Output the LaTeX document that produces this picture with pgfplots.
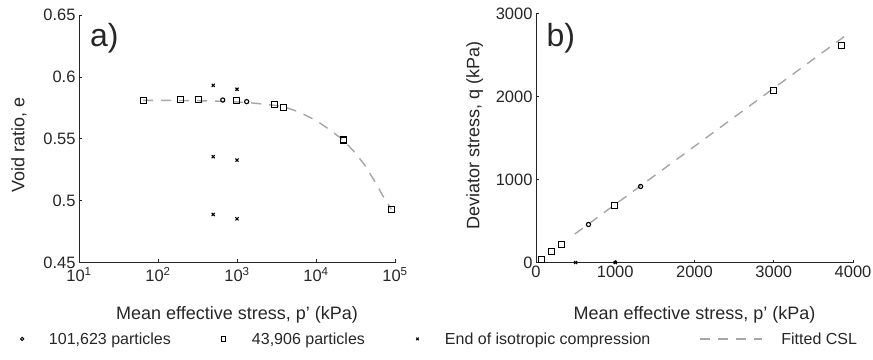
\documentclass[border=0pt]{standalone}
\usepackage{fontspec}
\setmainfont{Liberation Sans}
\usepackage{pgfplots}
\pgfplotsset{compat=1.18}
\definecolor{txt}{HTML}{262626}
\definecolor{csl}{HTML}{A6A6A6}
\newcommand{\ap}{\symbol{39}}
\pgfplotsset{
  mystyle/.style={
    scale only axis,
    axis x line*=bottom, axis y line*=left,
    axis line style={txt, line width=0.7pt},
    tick align=inside,
    major tick length=3pt,
    tick style={txt, line width=0.7pt},
    every tick label/.append style={font=\fontsize{16.5}{19}\selectfont, text=txt},
    label style={font=\fontsize{18}{21}\selectfont, text=txt},
    /pgf/number format/assume math mode=true,
    /pgf/number format/1000 sep={},
    scaled ticks=false,
  },
  sq/.style={only marks, mark=square, mark size=3pt, black, line width=1.1pt},
  ci/.style={only marks, mark=o, mark size=2.1pt, black, line width=1.1pt},
  cr/.style={only marks, mark=x, mark size=2.2pt, black, line width=1.1pt},
  fit/.style={no marks, csl, line width=1.4pt, dash pattern=on 10pt off 8pt},
  limgA/.style={legend image code/.code={\path (0pt,0pt) (48pt,0pt); \draw[##1] plot coordinates {(21.7pt,0pt)};}},
  limgB/.style={legend image code/.code={\path (0pt,0pt) (82pt,0pt); \draw[##1] plot coordinates {(54pt,0pt)};}},
  limgC/.style={legend image code/.code={\path (0pt,0pt) (79pt,0pt); \draw[##1] plot coordinates {(52pt,0pt)};}},
  limgD/.style={legend image code/.code={\path (0pt,0pt) (129pt,0pt); \draw[##1] (48pt,0pt) -- (110pt,0pt);}},
}
\begin{document}
\begin{tikzpicture}
\useasboundingbox (0pt,0pt) rectangle (873pt,359pt);
% ---------------- panel a ----------------
\begin{axis}[mystyle,
  at={(79pt,96.5pt)}, anchor=south west,
  width=316pt, height=247.5pt,
  xmode=log, xmin=10, xmax=100000,
  xtick={10,100,1000,10000,100000},
  xticklabels={10\textsuperscript{1},10\textsuperscript{2},10\textsuperscript{3},10\textsuperscript{4},10\textsuperscript{5}},
  xticklabel style={yshift=-1.5pt},
  xminorticks=false,
  ymin=0.45, ymax=0.65, ytick={0.45,0.5,0.55,0.6,0.65},
  yticklabels={0.45,0.5,0.55,0.6,0.65},
  xlabel={Mean effective stress, p\ap{} (kPa)},
  ylabel={Void ratio, e},
  xlabel style={at={(axis description cs:0.5,-0.21)}, anchor=center},
  ylabel style={at={(axis description cs:-0.19,0.476)}, anchor=center},
  legend style={at={(axis description cs:-0.25,-0.3088)}, anchor=west,
    draw=none, fill=none, inner sep=0pt, outer sep=0pt,
    column sep=0pt, legend columns=4,
    nodes={inner sep=0pt, text depth=0pt, anchor=west, text=txt,
      font=\fontsize{16}{19}\selectfont}},
]
\addplot[fit, forget plot] coordinates {
(65,0.5810) (100,0.5810) (200,0.5809) (400,0.5806) (700,0.5802) (1000,0.5797)
(1500,0.5790) (2000,0.5782) (3000,0.5770) (4000,0.5757) (6000,0.5718)
(10000,0.5648) (15000,0.5572) (22000,0.5490) (30000,0.5400) (40000,0.5300)
(55000,0.5160) (70000,0.5040) (90000,0.4930)};
\addplot[sq, forget plot] coordinates {
(65,0.5807) (195,0.5818) (327,0.5815) (990,0.5807) (3000,0.5780) (3860,0.5753)
(22000,0.5490) (90800,0.4926)};
\addplot[ci, forget plot] coordinates {(660,0.5813) (1325,0.5800)};
\addplot[cr, forget plot] coordinates {
(500,0.5931) (1000,0.5900) (500,0.5355) (1000,0.5328) (500,0.4888) (1000,0.4853)};
\addlegendimage{ci, mark size=1.6pt, line width=1pt, limgA}
\addlegendentry{\makebox[120pt][l]{101,623 particles}}
\addlegendimage{sq, mark size=2.4pt, line width=1pt, limgB}
\addlegendentry{\makebox[113pt][l]{43,906 particles}}
\addlegendimage{cr, mark size=1.8pt, line width=1pt, limgC}
\addlegendentry{\makebox[206pt][l]{End of isotropic compression}}
\addlegendimage{fit, limgD}
\addlegendentry{Fitted CSL}
\node[anchor=north west, inner sep=0pt, text=txt, font=\fontsize{32}{36}\selectfont]
  at (axis description cs:0.0348,0.9676) {a)};
\end{axis}
% ---------------- panel b ----------------
\begin{axis}[mystyle,
  at={(536pt,96.5pt)}, anchor=south west,
  width=317pt, height=249pt,
  xmin=0, xmax=4000, xtick={0,1000,2000,3000,4000},
  ymin=0, ymax=3000, ytick={0,1000,2000,3000},
  xlabel={Mean effective stress, p\ap{} (kPa)},
  ylabel={Deviator stress, q (kPa)},
  xlabel style={at={(axis description cs:0.5,-0.209)}, anchor=center},
  ylabel style={at={(axis description cs:-0.193,0.51)}, anchor=center},
]
\addplot[fit] coordinates {(490,343) (3915,2740)};
\addplot[sq] coordinates {(65,40) (195,129) (327,217) (990,683) (3000,2068) (3860,2610)};
\addplot[ci] coordinates {(662,458) (1320,916)};
\addplot[cr] coordinates {(500,0) (1000,0)};
\node[anchor=north west, inner sep=0pt, text=txt, font=\fontsize{32}{36}\selectfont]
  at (axis description cs:0.0326,0.9626) {b)};
\end{axis}
\end{tikzpicture}
\end{document}
